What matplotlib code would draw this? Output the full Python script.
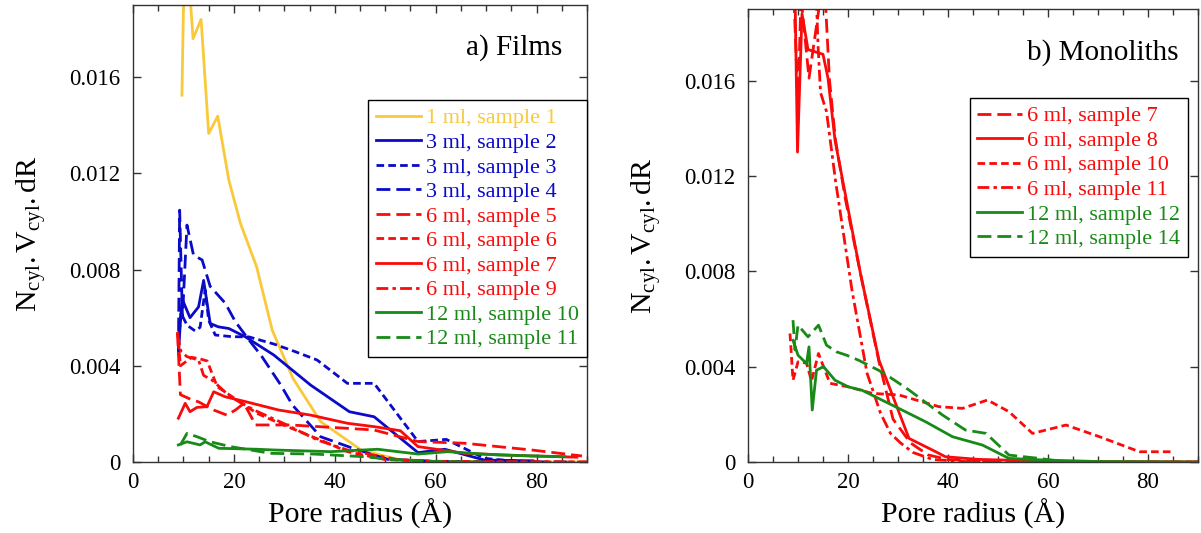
import numpy as np
import matplotlib
matplotlib.use("Agg")
import matplotlib.pyplot as plt
from matplotlib.ticker import MultipleLocator, FuncFormatter

plt.rcParams['font.family'] = ['Liberation Serif', 'DejaVu Serif']
plt.rcParams['mathtext.fontset'] = 'custom'
plt.rcParams['mathtext.rm'] = 'Liberation Serif'
plt.rcParams['mathtext.it'] = 'Liberation Serif:italic'
plt.rcParams['lines.scale_dashes'] = False

YELLOW = '#f9c93b'
BLUE = '#0a0ac8'
RED = '#fa0a0a'
GREEN = '#178a17'

SOLID = '-'
LONG = (0, (10, 4.3))
SHORT = (0, (5.5, 3))
DASHDOT = (0, (8.5, 3, 2.5, 3))

# ---- a) Films  (y values in units of 1e-3) ----
f1_x = [9.7, 10.3, 11.9, 13.5, 15.0, 16.8, 19.0, 21.3, 24.5, 27.6, 31.7, 37.2, 45.2, 52.5, 60, 70, 80, 90]
f1_y = [15.25, 22.5, 17.6, 18.4, 13.66, 14.38, 11.72, 9.92, 8.12, 5.48, 3.48, 1.68, 0.5, 0.11, 0.03, 0.01, 0.0, 0.0]

f2_x = [9.0, 9.7, 11.3, 13.0, 14.0, 15.3, 16.9, 19.0, 22.3, 27.9, 35.2, 42.9, 47.8, 56.5, 61.8, 69.7, 79.3]
f2_y = [4.5, 6.8, 6.0, 6.45, 7.55, 5.76, 5.62, 5.55, 5.2, 4.45, 3.2, 2.09, 1.88, 0.39, 0.53, 0.08, 0.05]

f3_x = [9.0, 9.5, 10.7, 12.3, 13.3, 14.3, 15.0, 16.3, 19.6, 23.0, 28.0, 32.0, 36.5, 42.5, 47.8, 56.5, 62.1, 69.7, 75, 80]
f3_y = [4.9, 6.2, 5.69, 5.45, 5.6, 7.15, 5.9, 5.28, 5.21, 5.2, 4.9, 4.6, 4.24, 3.27, 3.27, 0.85, 0.94, 0.15, 0.05, 0.0]

f4_x = [9.0, 9.25, 9.8, 10.7, 12.0, 13.7, 15.3, 18.3, 20.3, 23.0, 25.5, 29.3, 31.6, 37.2, 43.2, 50.5, 60, 70, 86]
f4_y = [4.6, 10.47, 6.0, 9.85, 8.6, 8.4, 7.3, 6.6, 5.83, 5.07, 4.4, 3.2, 2.37, 1.05, 0.6, 0.11, 0.03, 0.01, 0.0]

f5_x = [8.8, 9.4, 11.5, 13.0, 16.0, 18.6, 20.3, 22.0, 24.3, 31.2, 42.5, 47.8, 56.5, 65.7, 79, 89]
f5_y = [5.4, 2.8, 2.6, 2.5, 2.16, 1.95, 2.16, 2.44, 1.54, 1.54, 1.4, 1.33, 0.85, 0.78, 0.5, 0.25]

f6_x = [9.0, 9.4, 11.6, 13.1, 14.7, 16.7, 20.6, 24.6, 30.6, 37.2, 42.5, 50, 60, 70, 90]
f6_y = [5.0, 4.0, 4.35, 4.3, 4.2, 3.13, 2.58, 2.02, 1.47, 0.91, 0.43, 0.1, 0.02, 0.0, 0.0]

f7_x = [9.0, 10.35, 11.3, 12.67, 14.66, 16.0, 18.3, 22.3, 28.9, 35.2, 42.5, 47.8, 53.0, 56.5, 65.7, 79, 88]
f7_y = [1.82, 2.44, 2.09, 2.27, 2.3, 2.92, 2.71, 2.51, 2.16, 1.95, 1.61, 1.47, 1.3, 0.64, 0.36, 0.25, 0.2]

f9_x = [8.8, 9.5, 10.7, 13.0, 14.0, 15.7, 19.3, 24.0, 29.9, 36.6, 42.5, 52.5, 60, 90]
f9_y = [5.35, 4.6, 4.38, 4.24, 3.6, 3.4, 2.71, 2.16, 1.6, 0.91, 0.5, 0.1, 0.02, 0.0]

f10_x = [9.0, 10.7, 13.3, 14.3, 17.0, 24.6, 27.9, 39.2, 48.5, 56.5, 62.4, 72.4, 85.6]
f10_y = [0.71, 0.84, 0.71, 0.84, 0.57, 0.53, 0.5, 0.43, 0.53, 0.33, 0.43, 0.29, 0.22]

f11_x = [9.4, 10.7, 12.7, 15.3, 19.3, 27.3, 35.9, 45.8, 51.0, 60, 70]
f11_y = [0.71, 1.19, 1.05, 0.84, 0.64, 0.36, 0.33, 0.22, 0.11, 0.02, 0.0]

# ---- b) Monoliths ----
m7_x = [9.0, 10.0, 10.6, 12.2, 15.2, 16.3, 17.5, 19.5, 22.6, 26.2, 29.0, 32.5, 36, 40, 50, 60, 90]
m7_y = [20.5, 15.0, 19.5, 16.1, 20.5, 16.0, 13.5, 11.0, 7.8, 4.2, 1.8, 0.8, 0.3, 0.1, 0.02, 0.0, 0.0]

m8_x = [9.3, 9.9, 10.8, 12.0, 15.0, 16.0, 17.4, 19.4, 22.5, 26.2, 32.2, 36.9, 39.5, 46, 60, 90]
m8_y = [21.0, 13.0, 18.8, 17.3, 17.1, 16.1, 13.5, 11.3, 7.9, 4.27, 0.99, 0.5, 0.22, 0.11, 0.03, 0.0]

m10_x = [8.4, 9.0, 10.0, 11.7, 12.7, 14.1, 15.1, 16.4, 20.1, 24.8, 30.2, 38.2, 42.9, 47.9, 52.2, 56.9, 63.6, 70.3, 78.3, 85.0]
m10_y = [5.39, 3.43, 4.2, 4.15, 3.4, 4.55, 4.0, 3.3, 3.15, 2.88, 2.81, 2.32, 2.25, 2.6, 2.11, 1.2, 1.55, 1.06, 0.43, 0.43]

m11_x = [9.0, 13.5, 14.0, 14.5, 15.7, 17.5, 20.8, 23.8, 26.5, 28.5, 30.5, 33, 37, 45, 90]
m11_y = [30.0, 20.5, 17.5, 15.5, 14.7, 11.8, 7.2, 3.73, 2.05, 1.2, 0.8, 0.4, 0.1, 0.0, 0.0]

m12_x = [9.0, 10.0, 11.7, 12.2, 12.85, 13.7, 15.1, 17.4, 20.1, 22.8, 28.8, 35.5, 40.9, 46.9, 52.2, 59.6, 70, 90]
m12_y = [5.1, 4.48, 4.13, 4.83, 2.18, 3.85, 4.0, 3.43, 3.15, 3.01, 2.39, 1.69, 1.06, 0.71, 0.15, 0.08, 0.02, 0.0]

m14_x = [9.0, 9.4, 10.0, 12.0, 14.1, 15.7, 17.7, 19.7, 22.1, 26.1, 27.8, 32.2, 38.9, 43.5, 47.6, 52.2, 58.3, 63.6]
m14_y = [5.95, 4.7, 5.74, 5.25, 5.74, 4.9, 4.62, 4.48, 4.27, 3.85, 3.64, 3.02, 1.97, 1.34, 1.2, 0.29, 0.15, 0.0]

films = [
    (f1_x, f1_y, YELLOW, SOLID, '1 ml, sample 1'),
    (f2_x, f2_y, BLUE, SOLID, '3 ml, sample 2'),
    (f3_x, f3_y, BLUE, SHORT, '3 ml, sample 3'),
    (f4_x, f4_y, BLUE, LONG, '3 ml, sample 4'),
    (f5_x, f5_y, RED, LONG, '6 ml, sample 5'),
    (f6_x, f6_y, RED, SHORT, '6 ml, sample 6'),
    (f7_x, f7_y, RED, SOLID, '6 ml, sample 7'),
    (f9_x, f9_y, RED, DASHDOT, '6 ml, sample 9'),
    (f10_x, f10_y, GREEN, SOLID, '12 ml, sample 10'),
    (f11_x, f11_y, GREEN, LONG, '12 ml, sample 11'),
]
monoliths = [
    (m7_x, m7_y, RED, LONG, '6 ml, sample 7'),
    (m8_x, m8_y, RED, SOLID, '6 ml, sample 8'),
    (m10_x, m10_y, RED, SHORT, '6 ml, sample 10'),
    (m11_x, m11_y, RED, DASHDOT, '6 ml, sample 11'),
    (m12_x, m12_y, GREEN, SOLID, '12 ml, sample 12'),
    (m14_x, m14_y, GREEN, LONG, '12 ml, sample 14'),
]

fig = plt.figure(figsize=(12.01, 5.33), dpi=100)
ax1 = fig.add_axes([133 / 1201, 71 / 533, 454 / 1201, 457 / 533])
ax2 = fig.add_axes([748 / 1201, 71 / 533, 450 / 1201, 453 / 533])


def style_axes(ax):
    ax.set_xlim(0, 90)
    ax.set_ylim(0, 0.019)
    ax.xaxis.set_major_locator(MultipleLocator(20))
    ax.xaxis.set_minor_locator(MultipleLocator(5))
    ax.yaxis.set_major_locator(MultipleLocator(0.004))
    ax.yaxis.set_major_formatter(FuncFormatter(lambda v, p: '0' if abs(v) < 1e-9 else f'{v:.3f}'))
    ax.tick_params(which='both', direction='in', top=True, right=True, width=1, color='#333333')
    ax.tick_params(which='major', length=6, labelsize=16.5)
    ax.tick_params(axis='x', which='major', pad=7)
    ax.tick_params(axis='y', which='major', pad=9)
    ax.tick_params(which='minor', length=4)
    for s in ax.spines.values():
        s.set_linewidth(1.0)
        s.set_color('#333333')
    ax.set_xlabel('Pore radius (Å)', fontsize=21.5, labelpad=4)
    ax.set_ylabel(r'$\mathrm{N_{cyl}.V_{cyl}.dR}$', fontsize=21.5, labelpad=15)


def draw(ax, series, anchor):
    for x, y, c, ls, lab in series:
        ax.plot(x, np.array(y) * 1e-3, color=c, linestyle=ls, linewidth=2.0, label=lab)
    leg = ax.legend(loc='upper right', bbox_to_anchor=anchor, fontsize=16,
                    frameon=True, fancybox=False, edgecolor='black', framealpha=1,
                    handlelength=2.0, handletextpad=0.25, labelspacing=0.18,
                    borderpad=0.35, borderaxespad=0)
    leg.get_frame().set_linewidth(1.0)
    for txt, line in zip(leg.get_texts(), leg.get_lines()):
        txt.set_color(line.get_color())


style_axes(ax1)
style_axes(ax2)
draw(ax1, films, (1.0, 0.792))
draw(ax2, monoliths, (0.978, 0.8035))

ax1.text(0.945, 0.906, 'a) Films', transform=ax1.transAxes, ha='right', va='center', fontsize=21)
ax2.text(0.956, 0.905, 'b) Monoliths', transform=ax2.transAxes, ha='right', va='center', fontsize=21)

fig.savefig('out.png', dpi=100)
